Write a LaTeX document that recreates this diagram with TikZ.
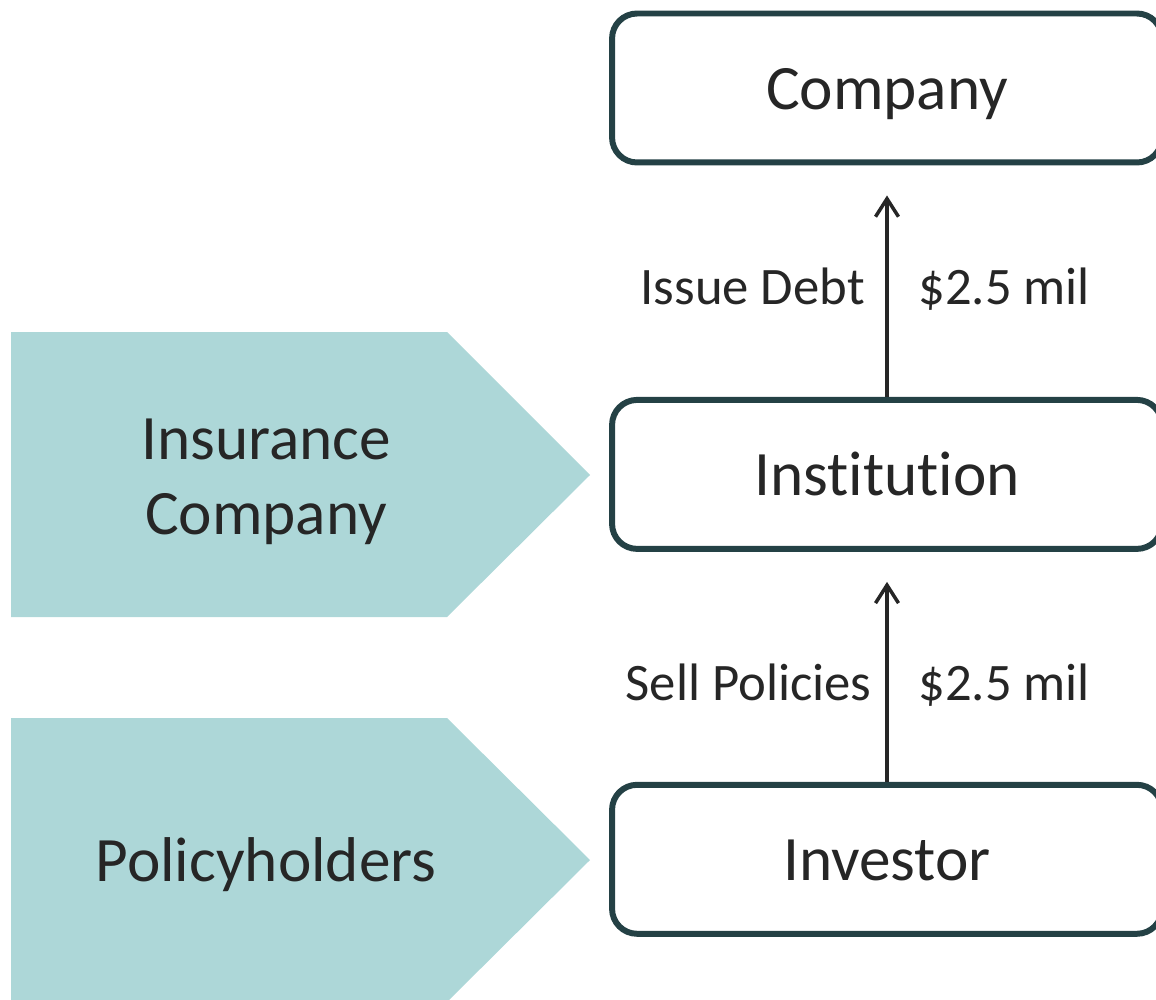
\documentclass[tikz,border=0pt]{standalone}
\usepackage{fontspec}
\setmainfont{Carlito}[Ligatures=NoCommon]
\usepackage{xcolor}
\usetikzlibrary{arrows.meta, positioning}

\definecolor{tealfill}{HTML}{ADD7D8}
\definecolor{boxline}{HTML}{244145}
\definecolor{inkgray}{HTML}{262626}

\begin{document}
\begin{tikzpicture}[x=0.02cm, y=-0.02cm,
    every node/.style={text=inkgray},
    box/.style={draw=boxline, line width=3.4pt, rounded corners=0.5cm,
      minimum width=11cm, minimum height=2.98cm,
      font=\fontsize{36}{42.5}\selectfont, text height=31pt, text depth=6.6pt},
    chevtext/.style={align=center, font=\fontsize{36}{42.5}\selectfont},
    lbl/.style={inner sep=0pt, font=\fontsize{30}{36}\selectfont},
    flow/.style={draw=inkgray, line width=2pt,
      -{Straight Barb[length=0.36cm, width=0.46cm, line width=2pt]},
      shorten >=0.6cm}]
  \useasboundingbox (0,0) rectangle (1156,1000);

  % Pfeilformen links
  \fill[tealfill] (11,332) -- (447,332) -- (590,475) -- (447,617) -- (11,617) -- cycle;
  \fill[tealfill] (11,718) -- (447,718) -- (590,860) -- (447,1002) -- (11,1002) -- cycle;
  \node[chevtext] (insco) at (266,482) {Insurance\\Company};
  \node[chevtext, text height=31pt, text depth=6.6pt] (holders) at (266,860) {Policyholders};

  % Kästen
  \node[box] (comp) at (887,88) {Company};
  \node[box, below=4.63cm of comp] (inst) {Institution};
  \node[box, below=4.6cm of inst] (inv) {Investor};

  % Geldfluss
  \draw[flow] (inst.north) -- (comp.south);
  \draw[flow] (inv.north) -- (inst.south);

  % Beschriftungen
  \node[lbl, anchor=base east] (debt) at (865,304) {Issue Debt};
  \node[lbl, anchor=base west] (debtamt) at (918,304) {\$2.5 mil};
  \node[lbl, anchor=base east] (sell) at (872,700) {Sell Policies};
  \node[lbl, anchor=base west] (sellamt) at (918,700) {\$2.5 mil};
\end{tikzpicture}
\end{document}
